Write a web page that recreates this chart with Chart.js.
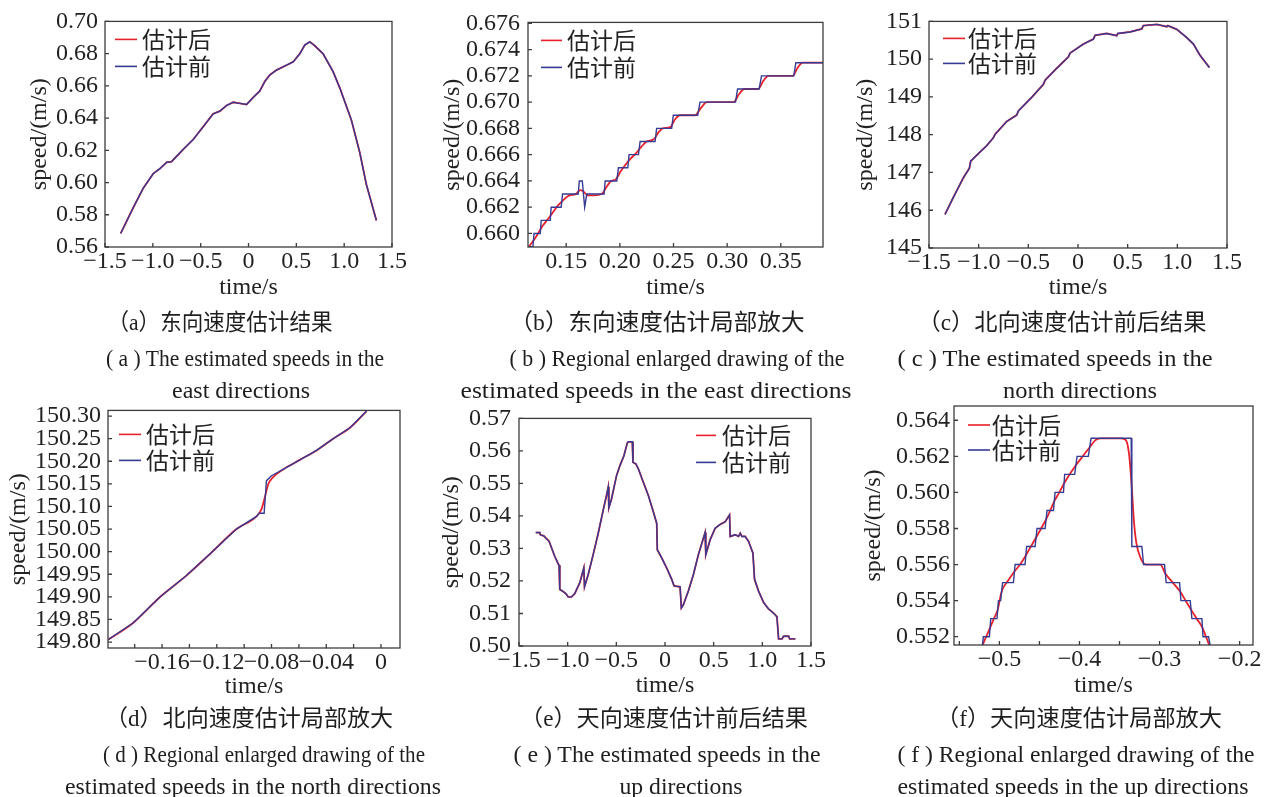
<!DOCTYPE html>
<html>
<head>
<meta charset="utf-8">
<script src="https://cdn.jsdelivr.net/npm/chart.js@4.4.1/dist/chart.umd.min.js"></script>
<style>
  html, body { margin: 0; background: #fff; }
  body { width: 1267px; height: 797px; position: relative; overflow: hidden; }
  canvas { position: absolute; }
  svg { position: absolute; left: 0; top: 0; }
  .cap { font-family: "Liberation Serif", "Noto Sans CJK SC", serif; font-size: 23px; fill: #1e1e1e; }
</style>
</head>
<body>
<canvas id="panelA" width="389" height="300" style="left:28px;top:0px"></canvas>
<canvas id="panelB" width="407" height="300" style="left:441px;top:0px"></canvas>
<canvas id="panelC" width="408" height="300" style="left:854px;top:0px"></canvas>
<canvas id="panelD" width="418" height="310" style="left:7px;top:389px"></canvas>
<canvas id="panelE" width="395" height="302" style="left:440px;top:396px"></canvas>
<canvas id="panelF" width="405" height="312" style="left:862px;top:386px"></canvas>

<svg width="1267" height="797">
  <g class="cap" text-anchor="middle" dominant-baseline="central">
    <text x="220" y="322" textLength="225" lengthAdjust="spacingAndGlyphs">（a）东向速度估计结果</text>
    <text x="657" y="322" textLength="295" lengthAdjust="spacingAndGlyphs">（b）东向速度估计局部放大</text>
    <text x="1062" y="322" textLength="289" lengthAdjust="spacingAndGlyphs">（c）北向速度估计前后结果</text>
    <text x="245" y="358" textLength="278" lengthAdjust="spacingAndGlyphs">( a ) The estimated speeds in the</text>
    <text x="241" y="390" textLength="138" lengthAdjust="spacingAndGlyphs">east directions</text>
    <text x="677" y="358" textLength="335" lengthAdjust="spacingAndGlyphs">( b ) Regional enlarged drawing of the</text>
    <text x="656" y="390" textLength="391" lengthAdjust="spacingAndGlyphs">estimated speeds in the east directions</text>
    <text x="1055" y="358" textLength="315" lengthAdjust="spacingAndGlyphs">( c ) The estimated speeds in the</text>
    <text x="1080" y="390" textLength="154" lengthAdjust="spacingAndGlyphs">north directions</text>

    <text x="249" y="718" textLength="288" lengthAdjust="spacingAndGlyphs">（d）北向速度估计局部放大</text>
    <text x="664" y="718" textLength="288" lengthAdjust="spacingAndGlyphs">（e）天向速度估计前后结果</text>
    <text x="1079" y="718" textLength="286" lengthAdjust="spacingAndGlyphs">（f）天向速度估计局部放大</text>
    <text x="264" y="754" textLength="322" lengthAdjust="spacingAndGlyphs">( d ) Regional enlarged drawing of the</text>
    <text x="253" y="786" textLength="376" lengthAdjust="spacingAndGlyphs">estimated speeds in the north directions</text>
    <text x="667" y="754" textLength="307" lengthAdjust="spacingAndGlyphs">( e ) The estimated speeds in the</text>
    <text x="681" y="786" textLength="123" lengthAdjust="spacingAndGlyphs">up directions</text>
    <text x="1076" y="754" textLength="357" lengthAdjust="spacingAndGlyphs">( f ) Regional enlarged drawing of the</text>
    <text x="1073" y="786" textLength="351" lengthAdjust="spacingAndGlyphs">estimated speeds in the up directions</text>
  </g>
</svg>

<script>
// (a) east speed, full run — filtered curve sits under the raw one
const aTime = [-1.336, -1.204, -1.100, -0.995, -0.926, -0.856, -0.804, -0.682, -0.578, -0.473, -0.369, -0.299,
  -0.230, -0.160, -0.090, -0.021, 0.049, 0.118, 0.171, 0.223, 0.292, 0.397, 0.467, 0.536, 0.588, 0.641, 0.693,
  0.780, 0.884, 0.954, 1.076, 1.163, 1.233, 1.337];
const aSpeed = [0.5684, 0.5845, 0.5965, 0.6056, 0.6086, 0.6126, 0.6130, 0.6206, 0.6267, 0.6347, 0.6427, 0.6443,
  0.6478, 0.6498, 0.6491, 0.6484, 0.6528, 0.6568, 0.6628, 0.6668, 0.6698, 0.6728, 0.6749, 0.6799, 0.6853, 0.6873,
  0.6849, 0.6799, 0.6688, 0.6588, 0.6387, 0.6186, 0.5986, 0.5765];
const aXTicks = [-1.5, -1.0, -0.5, 0, 0.5, 1.0, 1.5];
const aXLabels = ['−1.5', '−1.0', '−0.5', '0', '0.5', '1.0', '1.5'];
const aYTicks = [0.56, 0.58, 0.60, 0.62, 0.64, 0.66, 0.68, 0.70];
const aYLabels = ['0.56', '0.58', '0.60', '0.62', '0.64', '0.66', '0.68', '0.70'];

// (b) east speed, zoomed: raw staircase and smoothed estimate
const bRawTime = [0.1144, 0.1190, 0.1200, 0.1258, 0.1267, 0.1351, 0.1360, 0.1453, 0.1466, 0.1612, 0.1622, 0.1650,
  0.1672, 0.1692, 0.1853, 0.1863, 0.1971, 0.1987, 0.2074, 0.2086, 0.2173, 0.2189, 0.2328, 0.2343, 0.2483, 0.2498,
  0.2725, 0.2747, 0.3078, 0.3097, 0.3298, 0.3320, 0.3621, 0.3640, 0.3893];
const bRaw = [0.6590, 0.6590, 0.6600, 0.6600, 0.6610, 0.6610, 0.6620, 0.6620, 0.6630, 0.6630, 0.6640, 0.6640,
  0.6620, 0.6630, 0.6630, 0.6640, 0.6640, 0.6650, 0.6650, 0.6660, 0.6660, 0.6670, 0.6670, 0.6680, 0.6680, 0.6690,
  0.6690, 0.6700, 0.6700, 0.6710, 0.6710, 0.6720, 0.6720, 0.6730, 0.6730];
const bEstTime = [0.1144, 0.1215, 0.1245, 0.1282, 0.1330, 0.1375, 0.1420, 0.1480, 0.1530, 0.1590, 0.1630, 0.1660,
  0.1700, 0.1760, 0.1830, 0.1880, 0.1920, 0.1960, 0.2005, 0.2040, 0.2100, 0.2150, 0.2200, 0.2250, 0.2320, 0.2360,
  0.2400, 0.2470, 0.2515, 0.2560, 0.2700, 0.2760, 0.2810, 0.3060, 0.3110, 0.3160, 0.3290, 0.3335, 0.3385, 0.3610,
  0.3655, 0.3705, 0.3893];
const bEst = [0.6589, 0.6597, 0.6601, 0.6606, 0.6611, 0.6616, 0.6621, 0.6626, 0.6629, 0.6630, 0.6633, 0.6632,
  0.6629, 0.6629, 0.6630, 0.6636, 0.6640, 0.6641, 0.6647, 0.6651, 0.6657, 0.6661, 0.6666, 0.6670, 0.6672, 0.6677,
  0.6680, 0.6681, 0.6687, 0.6690, 0.6690, 0.6696, 0.6700, 0.6700, 0.6706, 0.6710, 0.6710, 0.6716, 0.6720, 0.6720,
  0.6726, 0.6730, 0.6730];
const bXTicks = [0.15, 0.20, 0.25, 0.30, 0.35];
const bXLabels = ['0.15', '0.20', '0.25', '0.30', '0.35'];
const bYTicks = [0.660, 0.662, 0.664, 0.666, 0.668, 0.670, 0.672, 0.674, 0.676];
const bYLabels = ['0.660', '0.662', '0.664', '0.666', '0.668', '0.670', '0.672', '0.674', '0.676'];

// (c) north speed, full run
const cTime = [-1.339, -1.255, -1.154, -1.094, -1.080, -1.003, -0.919, -0.852, -0.835, -0.718, -0.617, -0.600,
  -0.466, -0.349, -0.332, -0.214, -0.097, -0.080, 0.054, 0.155, 0.172, 0.289, 0.390, 0.400, 0.524, 0.642, 0.658,
  0.793, 0.894, 0.904, 0.994, 1.095, 1.162, 1.229, 1.323];
const cSpeed = [145.89, 146.34, 146.86, 147.11, 147.30, 147.50, 147.71, 147.92, 148.01, 148.35, 148.52, 148.63,
  148.99, 149.33, 149.44, 149.76, 150.06, 150.16, 150.40, 150.53, 150.63, 150.68, 150.62, 150.68, 150.72, 150.80,
  150.89, 150.92, 150.86, 150.89, 150.79, 150.57, 150.40, 150.10, 149.78];
const cYTicks = [145, 146, 147, 148, 149, 150, 151];
const cYLabels = ['145', '146', '147', '148', '149', '150', '151'];

// (d) north speed, zoomed around the jump
const dRawTime = [-0.1995, -0.1812, -0.1617, -0.1422, -0.1239, -0.1056, -0.0910, -0.0890, -0.0854, -0.0837, -0.0800,
  -0.0715, -0.0593, -0.0471, -0.0349, -0.0227, -0.0105];
const dRaw = [149.805, 149.842, 149.899, 149.947, 149.998, 150.050, 150.078, 150.085, 150.085, 150.157, 150.168,
  150.182, 150.203, 150.224, 150.250, 150.274, 150.311];
const dEstTime = [-0.1995, -0.1812, -0.1617, -0.1422, -0.1239, -0.1056, -0.0910, -0.0873, -0.0849, -0.0824, -0.0788,
  -0.0715, -0.0593, -0.0471, -0.0349, -0.0227, -0.0105];
const dEst = [149.805, 149.842, 149.899, 149.947, 149.998, 150.050, 150.078, 150.094, 150.120, 150.149, 150.165,
  150.182, 150.203, 150.224, 150.250, 150.274, 150.311];
const dXTicks = [-0.18, -0.16, -0.14, -0.12, -0.10, -0.08, -0.06, -0.04, -0.02, 0];
const dXLabels = ['', '−0.16', '', '−0.12', '', '−0.08', '', '−0.04', '', '0'];
const dYTicks = [149.80, 149.85, 149.90, 149.95, 150.00, 150.05, 150.10, 150.15, 150.20, 150.25, 150.30];
const dYLabels = ['149.80', '149.85', '149.90', '149.95', '150.00', '150.05', '150.10', '150.15', '150.20',
  '150.25', '150.30'];

// (e) up speed, full run
const eTime = [-1.328, -1.287, -1.280, -1.246, -1.218, -1.191, -1.133, -1.095, -1.088, -1.081, -1.054, -1.030,
  -1.013, -0.995, -0.961, -0.927, -0.875, -0.834, -0.827, -0.789, -0.738, -0.686, -0.635, -0.601, -0.583, -0.577,
  -0.549, -0.498, -0.463, -0.422, -0.388, -0.377, -0.336, -0.329, -0.299, -0.274, -0.223, -0.171, -0.120, -0.085,
  -0.079, -0.034, 0.017, 0.069, 0.093, 0.155, 0.168, 0.189, 0.240, 0.292, 0.343, 0.412, 0.419, 0.464, 0.515, 0.567,
  0.618, 0.663, 0.670, 0.721, 0.756, 0.773, 0.790, 0.824, 0.858, 0.903, 0.920, 0.961, 1.013, 1.064, 1.116, 1.150,
  1.167, 1.202, 1.219, 1.270, 1.281, 1.339];
const eSpeed = [0.5349, 0.5349, 0.5342, 0.5339, 0.5330, 0.5322, 0.5276, 0.5251, 0.5248, 0.5174, 0.5169, 0.5164,
  0.5159, 0.5151, 0.5151, 0.5161, 0.5195, 0.5240, 0.5182, 0.5220, 0.5281, 0.5347, 0.5418, 0.5463, 0.5489, 0.5425,
  0.5453, 0.5524, 0.5555, 0.5585, 0.5624, 0.5628, 0.5628, 0.5565, 0.5560, 0.5545, 0.5504, 0.5463, 0.5413, 0.5377,
  0.5296, 0.5271, 0.5240, 0.5205, 0.5185, 0.5182, 0.5117, 0.5127, 0.5169, 0.5220, 0.5281, 0.5349, 0.5281, 0.5327,
  0.5362, 0.5374, 0.5382, 0.5403, 0.5337, 0.5342, 0.5337, 0.5347, 0.5337, 0.5337, 0.5322, 0.5286, 0.5205, 0.5169,
  0.5134, 0.5114, 0.5101, 0.5090, 0.5022, 0.5022, 0.5030, 0.5030, 0.5022, 0.5022];
const eYTicks = [0.50, 0.51, 0.52, 0.53, 0.54, 0.55, 0.56, 0.57];
const eYLabels = ['0.50', '0.51', '0.52', '0.53', '0.54', '0.55', '0.56', '0.57'];

// (f) up speed, zoomed around the peak
const fRawTime = [-0.5213, -0.5200, -0.5125, -0.5108, -0.5030, -0.5012, -0.4985, -0.4960, -0.4825, -0.4804, -0.4680,
  -0.4660, -0.4554, -0.4530, -0.4429, -0.4405, -0.4325, -0.4305, -0.4200, -0.4185, -0.4060, -0.4030, -0.3890, -0.3855,
  -0.3354, -0.3346, -0.3221, -0.3200, -0.2938, -0.2917, -0.2750, -0.2733, -0.2617, -0.2596, -0.2471, -0.2458, -0.2388,
  -0.2367];
const fRaw = [0.5515, 0.5520, 0.5520, 0.5530, 0.5530, 0.5540, 0.5540, 0.5550, 0.5550, 0.5560, 0.5560, 0.5570, 0.5570,
  0.5580, 0.5580, 0.5590, 0.5590, 0.5600, 0.5600, 0.5610, 0.5610, 0.5620, 0.5620, 0.5630, 0.5630, 0.5570, 0.5570,
  0.5560, 0.5560, 0.5550, 0.5550, 0.5540, 0.5540, 0.5530, 0.5530, 0.5520, 0.5520, 0.5515];
const fEstTime = [-0.5213, -0.5116, -0.5069, -0.5021, -0.4972, -0.4893, -0.4814, -0.4742, -0.4670, -0.4607, -0.4542,
  -0.4479, -0.4417, -0.4365, -0.4315, -0.4252, -0.4192, -0.4122, -0.4045, -0.3960, -0.3872, -0.3800, -0.3740, -0.3480,
  -0.3420, -0.3380, -0.3350, -0.3320, -0.3290, -0.3240, -0.3170, -0.2990, -0.2928, -0.2834, -0.2742, -0.2675, -0.2607,
  -0.2535, -0.2465, -0.2420, -0.2378, -0.2360];
const fEst = [0.5515, 0.5525, 0.5530, 0.5535, 0.5545, 0.5551, 0.5556, 0.5560, 0.5565, 0.5570, 0.5575, 0.5580, 0.5585,
  0.5590, 0.5595, 0.5600, 0.5605, 0.5610, 0.5615, 0.5620, 0.5625, 0.5629, 0.5630, 0.5630, 0.5629, 0.5621, 0.5605,
  0.5584, 0.5572, 0.5564, 0.5560, 0.5560, 0.5555, 0.5550, 0.5545, 0.5540, 0.5535, 0.5530, 0.5525, 0.5520, 0.5515,
  0.5512];
const fXTicks = [-0.55, -0.50, -0.45, -0.40, -0.35, -0.30, -0.25, -0.20];
const fXLabels = ['', '−0.5', '', '−0.4', '', '−0.3', '', '−0.2'];
const fYTicks = [0.552, 0.554, 0.556, 0.558, 0.560, 0.562, 0.564];
const fYLabels = ['0.552', '0.554', '0.556', '0.558', '0.560', '0.562', '0.564'];

const RED = '#e8202a';
const BLUE = '#353a93';
const INK = '#222';
const SERIF = '"Liberation Serif", "Times New Roman", serif';
const FONT_SIZE = 24;

const xy = (t, v) => t.map((x, i) => ({ x, y: v[i] }));

// box around the plot, short inward ticks, and the legend inside the box
const frameLegend = {
  id: 'frameLegend',
  afterDatasetsDraw(chart, args, opts) {
    const { ctx, chartArea: a, scales: { x, y } } = chart;
    ctx.save();
    ctx.strokeStyle = '#3c3c3c';
    ctx.lineWidth = 1.3;
    ctx.strokeRect(a.left, a.top, a.right - a.left, a.bottom - a.top);
    ctx.beginPath();
    x.ticks.forEach(t => {
      const p = x.getPixelForValue(t.value);
      ctx.moveTo(p, a.bottom);
      ctx.lineTo(p, a.bottom - 4);
    });
    y.ticks.forEach(t => {
      const p = y.getPixelForValue(t.value);
      ctx.moveTo(a.left, p);
      ctx.lineTo(a.left + 4, p);
    });
    ctx.stroke();

    ctx.font = '23px "Noto Sans CJK SC"';
    ctx.textBaseline = 'middle';
    ctx.fillStyle = INK;
    chart.data.datasets.forEach((ds, i) => {
      const ly = a.top + opts.top + i * opts.gap;
      const lx = a.left + opts.left;
      ctx.strokeStyle = ds.borderColor;
      ctx.lineWidth = 1.6;
      ctx.beginPath();
      ctx.moveTo(lx, ly);
      ctx.lineTo(lx + opts.len, ly);
      ctx.stroke();
      ctx.fillText(ds.label, lx + opts.len + opts.space, ly);
    });
    ctx.restore();
  }
};

function axis(min, max, ticks, labels, title, fit, pad) {
  return {
    type: 'linear',
    min: min,
    max: max,
    grid: { display: false, drawTicks: false },
    border: { display: false },
    afterBuildTicks: s => { s.ticks = ticks.map(v => ({ value: v })); },
    afterFit: fit,
    ticks: {
      autoSkip: false,
      maxRotation: 0,
      padding: pad,
      color: INK,
      font: { family: SERIF, size: FONT_SIZE },
      callback: (v, i) => labels[i]
    },
    title: { display: true, text: title, color: INK, padding: 0, font: { family: SERIF, size: FONT_SIZE, lineHeight: 1 } }
  };
}

function panel(id, g, d) {
  new Chart(document.getElementById(id), {
    type: 'line',
    data: {
      datasets: [
        { label: '估计后', data: d.est, borderColor: RED, borderWidth: 1.8, order: 1,
          cubicInterpolationMode: d.smooth ? 'monotone' : 'default' },
        { label: '估计前', data: d.raw, borderColor: BLUE, borderWidth: 1.4, order: 0 }
      ]
    },
    options: {
      responsive: false,
      animation: false,
      events: [],
      layout: { padding: { top: g.top, right: g.right, left: 0, bottom: 0 } },
      elements: { point: { radius: 0 }, line: { tension: 0 } },
      plugins: { legend: { display: false }, tooltip: { enabled: false }, frameLegend: g.legend },
      scales: {
        x: axis(d.x[0], d.x[1], d.xTicks, d.xLabels, 'time/s', s => { s.height = g.xh; }, 0),
        y: axis(d.y[0], d.y[1], d.yTicks, d.yLabels, 'speed/(m/s)', s => { s.width = g.yw; }, g.ypad)
      }
    },
    plugins: [frameLegend]
  });
}

panel('panelA',
  { top: 15, right: 25, yw: 77, xh: 53, ypad: 7, legend: { left: 10, len: 22, space: 5, top: 18, gap: 27 } },
  { est: xy(aTime, aSpeed), raw: xy(aTime, aSpeed), x: [-1.5, 1.5], y: [0.56, 0.70],
    xTicks: aXTicks, xLabels: aXLabels, yTicks: aYTicks, yLabels: aYLabels });

panel('panelB',
  { top: 15, right: 25, yw: 87, xh: 53, ypad: 8, legend: { left: 13, len: 21, space: 5, top: 18, gap: 27 } },
  { est: xy(bEstTime, bEst), raw: xy(bRawTime, bRaw), smooth: true, x: [0.1144, 0.3893], y: [0.65897, 0.67607],
    xTicks: bXTicks, xLabels: bXLabels, yTicks: bYTicks, yLabels: bYLabels });

panel('panelC',
  { top: 15, right: 35, yw: 75, xh: 52, ypad: 7, legend: { left: 14, len: 22, space: 3, top: 17, gap: 25 } },
  { est: xy(cTime, cSpeed), raw: xy(cTime, cSpeed), x: [-1.5, 1.5], y: [145, 151],
    xTicks: aXTicks, xLabels: aXLabels, yTicks: cYTicks, yLabels: cYLabels });

panel('panelD',
  { top: 20, right: 25, yw: 101, xh: 51, ypad: 7, legend: { left: 11, len: 22, space: 5, top: 24, gap: 26 } },
  { est: xy(dEstTime, dEst), raw: xy(dRawTime, dRaw), smooth: true, x: [-0.1995, 0.0139], y: [149.7868, 150.3125],
    xTicks: dXTicks, xLabels: dXLabels, yTicks: dYTicks, yLabels: dYLabels });

panel('panelE',
  { top: 20, right: 24, yw: 79, xh: 52, ypad: 8, legend: { left: 177, len: 20, space: 6, top: 17, gap: 27 } },
  { est: xy(eTime, eSpeed), raw: xy(eTime, eSpeed), x: [-1.5, 1.5], y: [0.50, 0.57],
    xTicks: aXTicks, xLabels: aXLabels, yTicks: eYTicks, yLabels: eYLabels });

panel('panelF',
  { top: 20, right: 14, yw: 92, xh: 53, ypad: 4, legend: { left: 14, len: 22, space: 2, top: 19, gap: 25 } },
  { est: xy(fEstTime, fEst), raw: xy(fRawTime, fRaw), smooth: true, x: [-0.5567, -0.1833], y: [0.55154, 0.56479],
    xTicks: fXTicks, xLabels: fXLabels, yTicks: fYTicks, yLabels: fYLabels });
</script>
</body>
</html>
